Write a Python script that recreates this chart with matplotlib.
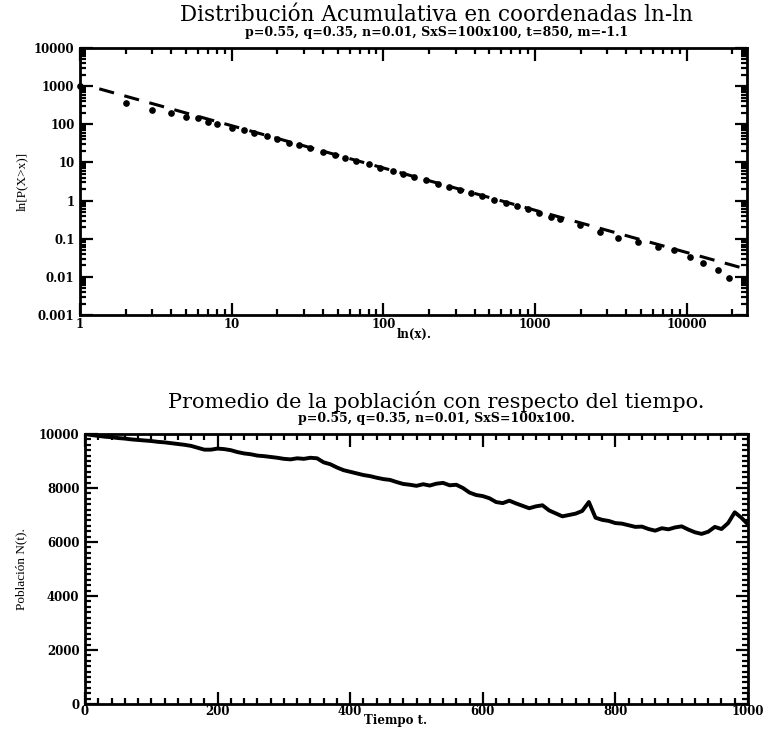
import matplotlib
matplotlib.use("Agg")
import matplotlib.pyplot as plt
from matplotlib.ticker import LogLocator, FixedLocator, MultipleLocator, NullFormatter

# ---------------- data: top panel (cumulative distribution) ----------------
cdf_x = [1, 2, 3, 4, 5, 6, 7, 8, 10, 12, 14, 17, 20, 24, 28, 33, 40, 48, 56, 66,
         80, 95, 115, 135, 160, 190, 230, 270, 320, 380, 450, 540, 640, 760,
         900, 1070, 1270, 1470, 1990, 2690, 3550, 4760, 6430, 8200, 10600,
         12800, 16100, 19000]
cdf_y = [1000, 360, 240, 200, 156, 148, 115, 102, 81, 70, 60, 49, 41, 33, 28,
         23.5, 19, 15.6, 13.2, 11, 8.9, 7.3, 5.9, 5.0, 4.1, 3.4, 2.75, 2.3, 1.9,
         1.57, 1.3, 1.06, 0.88, 0.73, 0.6, 0.48, 0.38, 0.32, 0.235, 0.152,
         0.107, 0.083, 0.061, 0.051, 0.034, 0.0236, 0.0154, 0.0095]
fit_x = [1.34, 23400]
fit_y = [850, 0.017]

# ---------------- data: bottom panel (population vs time) ----------------
time_t = list(range(0, 1001, 10))
pop_n = [10000, 9960, 9930, 9900, 9880, 9850, 9830, 9800, 9780, 9760,
         9740, 9710, 9690, 9660, 9630, 9600, 9560, 9490, 9420, 9420,
         9460, 9440, 9400, 9330, 9280, 9250, 9200, 9180, 9150, 9120,
         9080, 9060, 9100, 9080, 9120, 9100, 8950, 8880, 8760, 8660,
         8600, 8540, 8480, 8440, 8380, 8330, 8300, 8220, 8150, 8120,
         8080, 8140, 8090, 8160, 8190, 8100, 8120, 8000, 7830, 7740,
         7700, 7620, 7480, 7440, 7530, 7430, 7340, 7250, 7320, 7360,
         7170, 7060, 6950, 7000, 7050, 7150, 7480, 6900, 6820, 6780,
         6700, 6680, 6620, 6560, 6570, 6480, 6420, 6510, 6470, 6540,
         6580, 6460, 6360, 6300, 6380, 6560, 6480, 6700, 7100, 6900,
         6650]

title1 = "Distribución Acumulativa en coordenadas ln-ln"
sub1 = "p=0.55, q=0.35, n=0.01, SxS=100x100, t=850, m=-1.1"
title2 = "Promedio de la población con respecto del tiempo."
sub2 = "p=0.55, q=0.35, n=0.01, SxS=100x100."

W, H = 767, 729
fig = plt.figure(figsize=(W / 100, H / 100), dpi=100)

serif = "DejaVu Serif"


def style_axes(ax):
    for s in ax.spines.values():
        s.set_linewidth(2.0)
    ax.tick_params(which="both", direction="in", top=True, right=True,
                   width=1.6, color="black")
    ax.tick_params(which="major", length=9)
    ax.tick_params(which="minor", length=4.5)
    for lab in ax.get_xticklabels() + ax.get_yticklabels():
        lab.set_fontfamily(serif)
        lab.set_fontsize(8.5)
        lab.set_fontweight("bold")


# ---------------- top axes ----------------
ax1 = fig.add_axes([80 / W, 1 - 315 / H, 667 / W, 267 / H])
ax1.set_xscale("log")
ax1.set_yscale("log")
ax1.plot(fit_x, fit_y, linestyle=(0, (5, 3.5)), color="black", lw=2.2)
ax1.plot(cdf_x, cdf_y, "o", color="black", ms=3.8, clip_on=False)
ax1.set_xlim(1, 25000)
ax1.set_ylim(0.001, 10000)
ax1.xaxis.set_major_locator(FixedLocator([1, 10, 100, 1000, 10000]))
ax1.xaxis.set_minor_locator(LogLocator(base=10, subs=range(2, 10), numticks=20))
ax1.xaxis.set_minor_formatter(NullFormatter())
ax1.yaxis.set_major_locator(FixedLocator([0.001, 0.01, 0.1, 1, 10, 100, 1000, 10000]))
ax1.yaxis.set_minor_locator(LogLocator(base=10, subs=range(2, 10), numticks=20))
ax1.yaxis.set_minor_formatter(NullFormatter())
ax1.set_xticklabels(["1", "10", "100", "1000", "10000"])
ax1.set_yticklabels(["0.001", "0.01", "0.1", "1", "10", "100", "1000", "10000"])
style_axes(ax1)
ax1.tick_params(axis="x", pad=2)
ax1.tick_params(axis="y", pad=4)
ax1.set_xlabel("ln(x).", fontfamily=serif, fontsize=8.5, fontweight="bold")
ax1.xaxis.set_label_coords((414 - 80) / 667, -(328 - 315) / 267)
ax1.set_ylabel("ln[P(X>x)]", fontfamily="Liberation Serif", fontsize=9.5, labelpad=4)

cx = 0.5 + 53 / W
fig.text(cx, 1 - 15 / H, title1, ha="center", va="center",
         fontfamily=serif, fontsize=15.5)
fig.text(cx, 1 - 32.5 / H, sub1, ha="center", va="center",
         fontfamily=serif, fontsize=9, fontweight="bold")

# ---------------- bottom axes ----------------
ax2 = fig.add_axes([85 / W, 1 - 704 / H, 663 / W, 270 / H])
ax2.plot(time_t, pop_n, color="black", lw=2.8, solid_joinstyle="round")
ax2.set_xlim(0, 1000)
ax2.set_ylim(0, 10000)
ax2.xaxis.set_major_locator(MultipleLocator(200))
ax2.xaxis.set_minor_locator(MultipleLocator(20))
ax2.yaxis.set_major_locator(MultipleLocator(2000))
ax2.yaxis.set_minor_locator(MultipleLocator(200))
style_axes(ax2)
ax2.tick_params(axis="x", pad=1)
ax2.tick_params(axis="y", pad=4)
ax2.set_xlabel("Tiempo t.", fontfamily=serif, fontsize=8.5, fontweight="bold")
ax2.xaxis.set_label_coords((396 - 85) / 663, -(714 - 704) / 270)
ax2.set_ylabel("Población N(t).", fontfamily="Liberation Serif", fontsize=9.5, labelpad=8)

fig.text(cx, 1 - 401 / H, title2, ha="center", va="center",
         fontfamily=serif, fontsize=15)
fig.text(cx, 1 - 418.5 / H, sub2, ha="center", va="center",
         fontfamily=serif, fontsize=9, fontweight="bold")

fig.savefig("out.png", dpi=100)
